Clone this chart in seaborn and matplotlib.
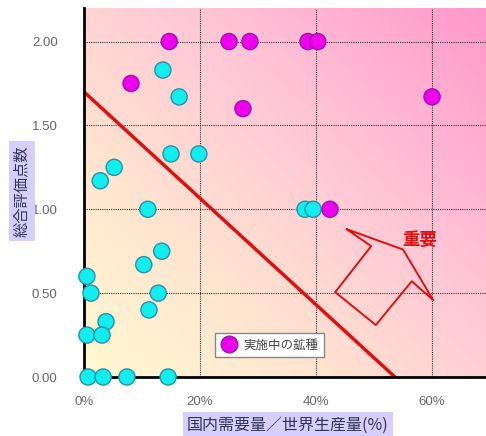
import numpy as np
import pandas as pd
import seaborn as sns
import matplotlib.pyplot as plt
from matplotlib.colors import LinearSegmentedColormap
from matplotlib.lines import Line2D

# values (x in %, y = score)
active_x = [14.7, 8.1, 25.0, 28.6, 27.4, 38.6, 40.3, 60.0, 42.4]
active_y = [2.0, 1.75, 2.0, 2.0, 1.6, 2.0, 2.0, 1.67, 1.0]
other_x = [13.6, 16.4, 15.0, 19.8, 5.2, 2.8, 11.0, 38.1, 39.5, 13.4, 10.3,
           0.5, 1.2, 12.8, 11.2, 3.8, 0.5, 3.1, 0.7, 3.3, 7.4, 14.5]
other_y = [1.83, 1.67, 1.33, 1.33, 1.25, 1.17, 1.0, 1.0, 1.0, 0.75, 0.67,
           0.6, 0.5, 0.5, 0.4, 0.33, 0.25, 0.25, 0.0, 0.0, 0.0, 0.0]

x_ticks = [0, 20, 40, 60]
y_ticks = [0.0, 0.5, 1.0, 1.5, 2.0]

# boundary line and arrow outline
line_x = [0, 53.6]
line_y = [1.7, 0.0]
arrow_x = [45.3, 55.0, 60.2, 56.5, 50.3, 43.3, 49.5, 45.3]
arrow_y = [0.881, 0.76, 0.458, 0.571, 0.31, 0.506, 0.78, 0.881]

legend_label = "実施中の鉱種"
x_label = "国内需要量／世界生産量(%)"
y_label = "総合評価点数"

df = pd.DataFrame({
    "x": other_x + active_x,
    "y": other_y + active_y,
    "group": ["other"] * len(other_x) + ["active"] * len(active_x),
})

sns.set_style("white")
plt.rcParams["font.family"] = ["Liberation Sans", "Noto Sans CJK JP"]
cjk = ["Noto Sans CJK JP", "DejaVu Sans"]

fig = plt.figure(figsize=(4.86, 4.36), dpi=100)
ax = fig.add_axes([84 / 486, 59 / 436, 1 - 84 / 486, 369 / 436])

# gradient background: cream at lower left, pink toward upper right
cmap = LinearSegmentedColormap.from_list(
    "bg", [(0.0, "#fffad0"), (0.3, "#ffe4d0"), (0.6, "#ffc8d6"),
           (1.0, "#ff98cc")])
gx, gy = np.meshgrid(np.linspace(0, 1, 200), np.linspace(0, 1, 200))
grad = 0.52 * gx + 0.48 * gy
ax.imshow(grad, cmap=cmap, extent=[0, 1, 0, 1], origin="lower",
          transform=ax.transAxes, aspect="auto", zorder=0, vmin=0, vmax=1)

ax.set_xlim(0, 69.3)
ax.set_ylim(0, 2.2)

for v in x_ticks[1:]:
    ax.axvline(v, color="#333333", lw=0.8, ls=(0, (1, 1)), zorder=1)
for v in y_ticks[1:]:
    ax.axhline(v, color="#333333", lw=0.8, ls=(0, (1, 1)), zorder=1)

ax.plot(line_x, line_y, color="#e01010", lw=2.5, zorder=2)
ax.plot(arrow_x, arrow_y, color="#e01010", lw=1.4, zorder=2)
ax.text(57.8, 0.815, "重要", color="#e01010", fontsize=12.5,
        fontweight="bold", ha="center", va="center", family=cjk, zorder=3)

sns.scatterplot(
    data=df, x="x", y="y", hue="group",
    palette={"other": "#10eef0", "active": "#f000f0"},
    s=135, linewidth=1.0, ax=ax, legend=False, zorder=5, clip_on=False,
)
cols = ax.collections[-1]
edge = ["#2a90a8"] * len(other_x) + ["#9a1aa0"] * len(active_x)
cols.set_edgecolors(edge)

ax.set_xticks(x_ticks)
ax.set_xticklabels([f"{v}%" for v in x_ticks])
ax.set_yticks(y_ticks)
ax.set_yticklabels([f"{v:.2f}" for v in y_ticks])
ax.tick_params(axis="both", length=0, labelsize=9.5, labelcolor="#666666")
ax.tick_params(axis="x", pad=14)
ax.tick_params(axis="y", pad=19)

for s in ["top", "right"]:
    ax.spines[s].set_visible(False)
for s in ["left", "bottom"]:
    ax.spines[s].set_color("black")
    ax.spines[s].set_linewidth(2.0)
    ax.spines[s].set_zorder(4)

ax.set_xlabel(x_label, fontsize=11.5, family=cjk, color="#333355",
              va="center",
              bbox=dict(facecolor="#d6ceff", edgecolor="none", pad=3))
ax.xaxis.set_label_coords(0.507, -0.13)
ax.set_ylabel(y_label, fontsize=11, family=cjk, color="#333355",
              va="center",
              bbox=dict(facecolor="#d6ceff", edgecolor="none", pad=3))
ax.yaxis.set_label_coords(-0.154, 0.504)

handle = Line2D([], [], marker="o", ls="none", markersize=12,
                markerfacecolor="#f000f0", markeredgecolor="#9a1aa0")
leg = ax.legend([handle], [legend_label], loc="center",
                bbox_to_anchor=(0.462, 0.087), prop={"family": cjk, "size": 9},
                frameon=True, fancybox=False, handletextpad=0.5,
                borderpad=0.45, handlelength=1.3, borderaxespad=0)
leg.get_frame().set_edgecolor("#888888")
leg.get_frame().set_facecolor("white")
leg.get_frame().set_alpha(1)
for t in leg.get_texts():
    t.set_color("#444444")
leg.set_zorder(6)

fig.savefig("out.png", dpi=100)
